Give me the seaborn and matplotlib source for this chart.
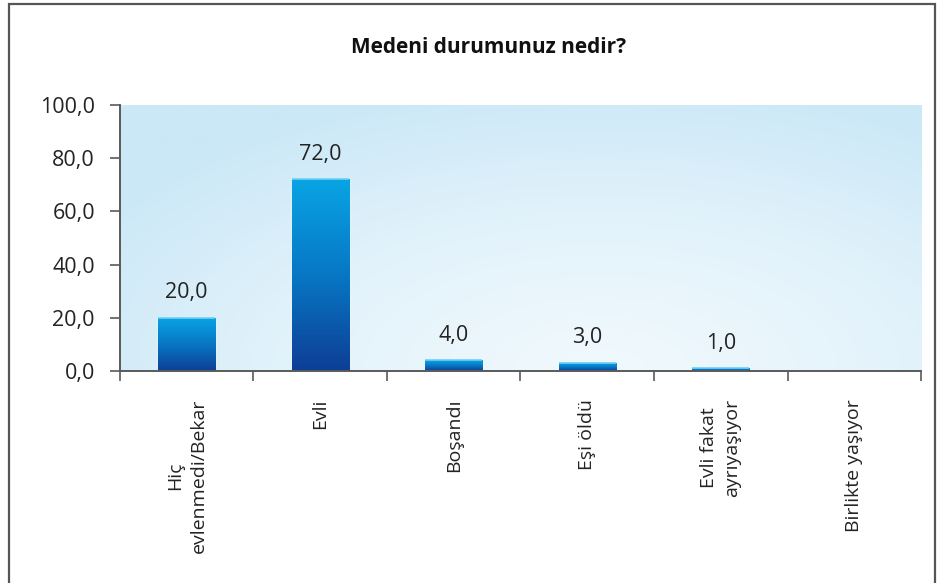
import numpy as np
import pandas as pd
import matplotlib
matplotlib.use("Agg")
import matplotlib.pyplot as plt
import seaborn as sns
from matplotlib.colors import LinearSegmentedColormap
from matplotlib.patches import Rectangle

# data
categories = ["Hiç\nevlenmedi/Bekar", "Evli", "Boşandı", "Eşi öldü",
              "Evli fakat\nayrıyaşıyor", "Birlikte yaşıyor"]
values = [20.0, 72.0, 4.0, 3.0, 1.0, 0.0]
value_labels = ["20,0", "72,0", "4,0", "3,0", "1,0"]
y_ticks = [0, 20, 40, 60, 80, 100]
y_tick_labels = ["0,0", "20,0", "40,0", "60,0", "80,0", "100,0"]
title = "Medeni durumunuz nedir?"

sns.set_theme(style="white")
plt.rcParams["font.family"] = ["Open Sans", "DejaVu Sans"]
text_color = "#232323"
axis_color = "#5a5a5a"

df = pd.DataFrame({"kategori": categories, "yuzde": values})

fig = plt.figure(figsize=(9.38, 5.83), dpi=100)
ax = fig.add_axes([0.1279, 0.3636, 0.854, 0.4563])

# background gradient of the plot area
bg_cmap = LinearSegmentedColormap.from_list("bg", ["#f1f9fd", "#e3f3fb", "#cbe8f7"])
gx, gy = np.meshgrid(np.linspace(0, 1, 300), np.linspace(0, 1, 150))
dist = np.sqrt(((gx - 0.6) / 0.75) ** 2 + ((gy - 0.0) / 1.1) ** 2)
ax.imshow(np.clip(dist, 0, 1), cmap=bg_cmap, extent=[0, 1, 0, 1], origin="lower",
          transform=ax.transAxes, aspect="auto", zorder=0)

sns.barplot(data=df, x="kategori", y="yuzde", color="#0777c4", width=0.43,
            ax=ax, zorder=2, saturation=1)

# vertical gradient on each bar
bar_cmap = LinearSegmentedColormap.from_list("bar", ["#0e3e96", "#0777c4", "#09a4e4"])
grad = np.linspace(0, 1, 256).reshape(-1, 1)
for patch in ax.patches:
    h = patch.get_height()
    if h <= 0:
        continue
    x0 = patch.get_x()
    w = patch.get_width()
    im = ax.imshow(grad, cmap=bar_cmap, extent=[x0, x0 + w, 0, h], origin="lower",
                   aspect="auto", zorder=3)
    im.set_clip_path(patch)
    ax.plot([x0, x0 + w], [h, h], color="#6fd0f4", lw=1.2, zorder=4,
            solid_capstyle="butt")

for i, lab in enumerate(value_labels):
    ax.text(i, values[i] + 5.5, lab, ha="center", va="bottom", fontsize=15.5,
            color=text_color, zorder=5)

ax.set_xlim(-0.5, len(categories) - 0.5)
ax.set_ylim(0, 100)
ax.set_xlabel("")
ax.set_ylabel("")

ax.set_yticks(y_ticks)
ax.set_yticklabels(y_tick_labels, fontsize=15.5, color=text_color)
ax.set_xticks(range(len(categories)))
ax.set_xticklabels(categories, rotation=90, fontsize=14, color=text_color,
                   ha="center", va="top", multialignment="center", linespacing=1.4)
ax.set_xticks(np.arange(-0.5, len(categories), 1), minor=True)
ax.tick_params(axis="x", which="major", length=0, pad=20)
ax.tick_params(axis="x", which="minor", length=7, width=1.2, color=axis_color,
               direction="out", bottom=True)
ax.tick_params(axis="y", length=7, width=1.2, color=axis_color, direction="out",
               left=True, pad=11)

for side in ["top", "right"]:
    ax.spines[side].set_visible(False)
for side in ["left", "bottom"]:
    ax.spines[side].set_color(axis_color)
    ax.spines[side].set_linewidth(1.4)
    ax.spines[side].set_zorder(6)

fig.text(0.521, 0.919, title, ha="center", va="center", fontsize=15,
         fontweight="bold", color="#111111")

# outer frame
fig.patches.append(Rectangle((8.5 / 938, -0.05), (935 - 8.5) / 938, 1.0 - 3.5 / 583 + 0.05,
                             transform=fig.transFigure, fill=False,
                             edgecolor="#555555", lw=1.6))

fig.savefig("out.png", dpi=100)
